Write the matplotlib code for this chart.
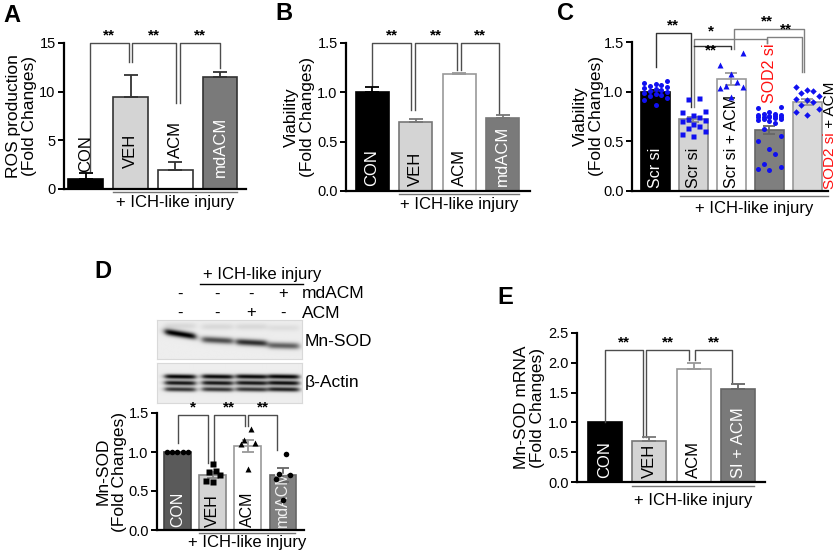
import numpy as np
import matplotlib
matplotlib.use('Agg')
import matplotlib.pyplot as plt

plt.rcParams['font.family'] = ['Liberation Sans', 'DejaVu Sans']

W, H = 837, 553

# ---------------- data ----------------
# A: ROS production
a_groups = ['CON', 'VEH', 'ACM', 'mdACM']
a_mean = [1.0, 9.5, 2.0, 11.5]
a_err = [0.6, 2.2, 0.8, 0.5]

# B: viability
b_groups = ['CON', 'VEH', 'ACM', 'mdACM']
b_mean = [1.0, 0.70, 1.19, 0.74]
b_err = [0.05, 0.03, 0.01, 0.03]

# C: viability with siRNA
c_groups = ['Scr si', 'Scr si', 'Scr si + ACM', 'SOD2 si', 'SOD2 si + ACM']
c_mean = [1.0, 0.72, 1.13, 0.61, 0.90]
c_err = [0.02, 0.025, 0.06, 0.04, 0.03]
c_pts = [
    [1.11, 1.09, 1.08, 1.07, 1.06, 1.05, 1.04, 1.03, 1.02, 1.01, 1.00, 0.99,
     0.98, 0.97, 0.96, 0.94, 0.92, 0.87],
    [0.94, 0.93, 0.81, 0.80, 0.77, 0.75, 0.72, 0.71, 0.70, 0.67, 0.65, 0.63,
     0.60, 0.57, 0.55],
    [1.39, 1.27, 1.18, 1.10, 1.06, 1.05, 1.04, 0.95],
    [0.85, 0.84, 0.80, 0.78, 0.78, 0.77, 0.77, 0.76, 0.76, 0.75, 0.75, 0.74,
     0.74, 0.73, 0.72, 0.72, 0.71, 0.70, 0.68, 0.62, 0.55, 0.50, 0.42, 0.37,
     0.27, 0.24, 0.22, 0.21],
    [1.05, 1.02, 1.01, 0.99, 0.96, 0.93, 0.92, 0.90, 0.87, 0.83, 0.80, 0.77],
]

# D: Mn-SOD western blot quantification
d_groups = ['CON', 'VEH', 'ACM', 'mdACM']
d_mean = [1.0, 0.71, 1.08, 0.70]
d_err = [0.0, 0.04, 0.08, 0.09]
d_pts = [
    [1.0, 1.0, 1.0, 1.0, 1.0],
    [0.84, 0.76, 0.74, 0.71, 0.63, 0.62],
    [1.29, 1.15, 1.12, 1.10, 0.78],
    [0.97, 0.72, 0.71, 0.65, 0.39],
]
d_mdacm_sign = ['-', '-', '-', '+']
d_acm_sign = ['-', '-', '+', '-']
mnsod_band = [0.95, 0.62, 0.75, 0.55]
actin_band = [[0.92, 0.90, 0.90, 0.92],
              [0.85, 0.85, 0.85, 0.88],
              [0.72, 0.72, 0.72, 0.80]]

# E: Mn-SOD mRNA
e_groups = ['CON', 'VEH', 'ACM', 'SI + ACM']
e_mean = [1.0, 0.69, 1.90, 1.56]
e_err = [0.0, 0.06, 0.10, 0.08]

fig = plt.figure(figsize=(W / 100, H / 100), dpi=100)


def px_axes(x0, x1, ytop, ybot):
    return fig.add_axes([x0 / W, 1 - ybot / H, (x1 - x0) / W, (ybot - ytop) / H])


def style(ax, ymax, yticks, xlim, fmt, ylabel, label_right_px):
    ax.set_ylim(0, ymax)
    ax.set_xlim(*xlim)
    ax.spines[['top', 'right']].set_visible(False)
    for s in ['left', 'bottom']:
        ax.spines[s].set_linewidth(1.6)
    ax.set_xticks([])
    ax.set_yticks(yticks)
    ax.set_yticklabels([fmt.format(t) for t in yticks])
    ax.tick_params(axis='y', length=4, width=1.4, labelsize=10.5, pad=2)
    ax.patch.set_alpha(0)
    pos = ax.get_position()
    xl = (label_right_px / W - pos.x0) / pos.width
    ax.set_ylabel(ylabel, fontsize=12.5, linespacing=1.1)
    ax.yaxis.set_label_coords(xl, 0.5)


def bars(ax, means, err, colors, edges, two_sided, capsize=5):
    x = np.arange(len(means))
    ax.bar(x, means, 0.76, color=colors, edgecolor=edges, linewidth=1.2, zorder=2)
    lower = err if two_sided else [0] * len(err)
    for i in range(len(means)):
        if err[i] > 0:
            ax.errorbar(x[i], means[i], yerr=[[lower[i]], [err[i]]], fmt='none',
                        ecolor=edges[i] if colors[i] != 'black' else 'black',
                        elinewidth=1.3, capsize=capsize, capthick=1.3, zorder=4)
    return x


def bracket(ax, xa, xb, top, ya, yb, label, color='0.3', lx=None, ly=None):
    ax.plot([xa, xa, xb, xb], [ya, top, top, yb], color=color, lw=1.0,
            clip_on=False, zorder=3)
    lx = (xa + xb) / 2 if lx is None else lx
    ymax = ax.get_ylim()[1]
    ly = top + ymax * 0.005 if ly is None else ly
    ax.text(lx, ly, label, ha='center', va='bottom' if ly >= top else 'center',
            fontsize=11, fontweight='bold', clip_on=False)


def ich(ax, x0, x1, dline, dtext):
    tr = ax.get_xaxis_transform()
    hpx = ax.get_position().height * H
    ax.plot([x0, x1], [-dline / hpx] * 2, color='0.45', lw=1, transform=tr,
            clip_on=False)
    ax.text((x0 + x1) / 2, -dtext / hpx, '+ ICH-like injury', transform=tr,
            ha='center', va='center', fontsize=12)


def spread(vals, width, k=5):
    order = np.argsort(vals)
    pattern = np.linspace(-width / 2, width / 2, k)[[2, 0, 4, 1, 3]]
    offs = np.zeros(len(vals))
    for r, idx in enumerate(order):
        offs[idx] = pattern[r % k]
    return offs


def vlabel(ax, x, y, s, color='black', size=12):
    ax.text(x, y, s, rotation=90, ha='center', va='bottom', color=color,
            fontsize=size, zorder=5)


# ---------------- A ----------------
axA = px_axes(64, 246, 43, 189)
style(axA, 15, [0, 5, 10, 15], (-0.48, 3.57), '{:g}',
      'ROS production\n(Fold Changes)', 37)
x = bars(axA, a_mean, a_err, ['black', '#d4d4d4', 'white', '#7a7a7a'],
         ['black', '#333333', '#333333', '#333333'], False)
vlabel(axA, 0, 1.75, 'CON')
vlabel(axA, 1, 2.2, 'VEH')
vlabel(axA, 2, 3.2, 'ACM')
vlabel(axA, 3, 1.2, 'mdACM', color='white')
bracket(axA, 0.1, 0.96, 15, 1.9, 13.0, '**')
bracket(axA, 1.04, 2.02, 15, 13.0, 8.8, '**')
bracket(axA, 2.1, 3.0, 15, 8.8, 12.4, '**')
ich(axA, 0.62, 3.38, 3, 14)

# ---------------- B ----------------
axB = px_axes(346, 530, 43, 191)
style(axB, 1.5, [0, 0.5, 1.0, 1.5], (-0.6, 3.63), '{:.1f}',
      'Viability\n(Fold Changes)', 315)
bars(axB, b_mean, b_err, ['black', '#d4d4d4', 'white', '#7a7a7a'],
     ['black', '#777777', '#999999', '#777777'], False)
vlabel(axB, 0, 0.05, 'CON', color='white')
vlabel(axB, 1, 0.05, 'VEH')
vlabel(axB, 2, 0.05, 'ACM')
vlabel(axB, 3, 0.05, 'mdACM', color='white')
bracket(axB, 0.0, 0.9, 1.5, 1.06, 0.82, '**')
bracket(axB, 0.98, 1.96, 1.5, 0.82, 1.23, '**')
bracket(axB, 2.04, 2.92, 1.5, 1.23, 0.78, '**')
ich(axB, 0.62, 3.38, 3, 14)

# ---------------- C ----------------
axC = px_axes(632, 828, 42, 191)
style(axC, 1.5, [0, 0.5, 1.0, 1.5], (-0.62, 4.55), '{:.1f}',
      'Viability\n(Fold Changes)', 604)
x = bars(axC, c_mean, c_err, ['black', '#d4d4d4', 'white', '#7f7f7f', '#d9d9d9'],
         ['black', '#888888', '#999999', '#666666', '#999999'], True, capsize=4)
markers = ['o', 's', '^', 'o', 'D']
msizes = [3.6, 3.6, 4.2, 3.6, 3.3]
for i, vals in enumerate(c_pts):
    axC.plot(x[i] + spread(vals, 0.6), vals, markers[i], color='#1010f0',
             ms=msizes[i], mec='none', zorder=6, clip_on=False)
vlabel(axC, 0, 0.03, 'Scr si', color='white', size=11.5)
vlabel(axC, 1, 0.03, 'Scr si', size=11.5)
vlabel(axC, 2, 0.03, 'Scr si + ACM', size=11.5)
vlabel(axC, 3, 0.89, 'SOD2 si', color='#ff1010', size=11.5)
t1 = axC.text(4.61, 0.02, 'SOD2 si', rotation=90, ha='center', va='bottom',
              color='#ff1010', fontsize=11, clip_on=False)
axC.annotate(' + ACM', xy=(0.5, 1), xycoords=t1, rotation=90, ha='center',
             va='bottom', fontsize=11, annotation_clip=False)
bracket(axC, 0.0, 0.93, 1.59, 1.25, 0.85, '**', color='0.2')
bracket(axC, 1.02, 2.94, 1.53, 0.85, 1.49, '*', color='0.5', lx=1.47)
bracket(axC, 1.02, 2.0, 1.46, 1.46, 1.43, '**', color='0.2', lx=1.47, ly=1.41)
bracket(axC, 2.07, 3.92, 1.63, 1.43, 1.20, '**', color='0.5', lx=2.94)
bracket(axC, 2.94, 3.86, 1.55, 1.49, 1.20, '**', color='0.5', lx=3.43)
ich(axC, 0.65, 4.55, 5, 18)

# ---------------- D ----------------
lanes_px = [180, 217, 251, 283]
for lx_, s in zip(lanes_px, d_mdacm_sign):
    fig.text(lx_ / W, 1 - 294 / H, s, ha='center', va='center', fontsize=12)
for lx_, s in zip(lanes_px, d_acm_sign):
    fig.text(lx_ / W, 1 - 313 / H, s, ha='center', va='center', fontsize=12)
fig.text(302 / W, 1 - 294 / H, 'mdACM', ha='left', va='center', fontsize=12.5)
fig.text(302 / W, 1 - 313 / H, 'ACM', ha='left', va='center', fontsize=12.5)
fig.text(262 / W, 1 - 274 / H, '+ ICH-like injury', ha='center', va='center',
         fontsize=12)
fig.add_artist(plt.Line2D([200 / W, 303 / W], [1 - 284 / H] * 2, color='black',
                          lw=1))

lane_c = [(p - 157) / 145 for p in lanes_px]


def blot_image(rows, centers, sy, slope):
    yy, xx = np.mgrid[0:1:120j, 0:1:300j]
    img = np.full(yy.shape, 0.93)
    for amps, yc, sl in zip(rows, centers, slope):
        for j, a in enumerate(amps):
            prof = 1 / (1 + np.exp((np.abs(xx - lane_c[j]) - 0.105) / 0.012))
            yc_j = yc[j] + sl[j] * (xx - lane_c[j])
            img -= a * prof * np.exp(-((yy - yc_j) / sy) ** 2)
    return np.clip(img, 0, 1)


axM = px_axes(157, 302, 320, 359)
img = blot_image([[0.08, 0.08, 0.08, 0.06], mnsod_band],
                 [[0.15, 0.17, 0.17, 0.2], [0.36, 0.52, 0.58, 0.66]], 0.085,
                 [[0, 0, 0, 0], [0.6, 0.2, 0.2, 0.1]])
axM.imshow(img, cmap='gray', vmin=0, vmax=1, extent=[0, 1, 1, 0], aspect='auto')
axM.set_xticks([]); axM.set_yticks([])
for s in axM.spines.values():
    s.set_color('0.85')
fig.text(305 / W, 1 - 341 / H, 'Mn-SOD', ha='left', va='center', fontsize=12.5)

axT = px_axes(157, 302, 363, 403)
img = blot_image(actin_band, [[0.34] * 4, [0.5] * 4, [0.66] * 4], 0.06,
                 [[0.05] * 4, [0.05] * 4, [0.05] * 4])
axT.imshow(img, cmap='gray', vmin=0, vmax=1, extent=[0, 1, 1, 0], aspect='auto')
axT.set_xticks([]); axT.set_yticks([])
for s in axT.spines.values():
    s.set_color('0.85')
fig.text(305 / W, 1 - 383 / H, 'β-Actin', ha='left', va='center', fontsize=12.5)

axD = px_axes(157, 304, 413, 530)
style(axD, 1.5, [0, 0.5, 1.0, 1.5], (-0.58, 3.6), '{:.1f}',
      'Mn-SOD\n(Fold Changes)', 127)
x = bars(axD, d_mean, d_err, ['#5a5a5a', '#d4d4d4', 'white', '#808080'],
         ['#444444', '#888888', '#999999', '#666666'], True, capsize=4)
dmark = ['o', 's', '^', 'o']
for i, vals in enumerate(d_pts):
    if i == 0:
        offs = np.linspace(-0.3, 0.3, len(vals))
    else:
        offs = spread(vals, 0.4)
    axD.plot(x[i] + offs, vals, dmark[i], color='black', ms=4, mec='none',
             zorder=6)
vlabel(axD, 0, 0.04, 'CON', color='white', size=11.5)
vlabel(axD, 1, 0.04, 'VEH', size=11.5)
vlabel(axD, 2, 0.04, 'ACM', size=11.5)
vlabel(axD, 3, 0.04, 'mdACM', color='#f0f0f0', size=11.5)
bracket(axD, 0.01, 0.88, 1.47, 1.11, 0.86, '*')
bracket(axD, 1.03, 1.92, 1.47, 0.82, 1.33, '**')
bracket(axD, 2.02, 2.83, 1.47, 1.33, 1.03, '**')
ich(axD, 0.62, 3.35, 3, 13)

# ---------------- E ----------------
axE = px_axes(577, 765, 333, 482)
style(axE, 2.5, [0, 0.5, 1.0, 1.5, 2.0, 2.5], (-0.62, 3.6), '{:.1f}',
      'Mn-SOD mRNA\n(Fold Changes)', 545)
bars(axE, e_mean, e_err, ['black', '#d4d4d4', 'white', '#7a7a7a'],
     ['black', '#777777', '#999999', '#666666'], False)
vlabel(axE, 0, 0.06, 'CON', color='white')
vlabel(axE, 1, 0.06, 'VEH')
vlabel(axE, 2, 0.06, 'ACM')
vlabel(axE, 3, 0.06, 'SI + ACM', color='white')
bracket(axE, 0.01, 0.86, 2.21, 1.01, 0.755, '**')
bracket(axE, 0.94, 1.9, 2.21, 0.755, 2.04, '**')
bracket(axE, 2.03, 2.86, 2.21, 2.04, 1.68, '**')
ich(axE, 0.62, 3.35, 4, 18)

# panel letters
for letter, px, py in [('A', 12, 15), ('B', 284, 14), ('C', 566, 14),
                       ('D', 103, 272), ('E', 505, 297)]:
    fig.text(px / W, 1 - py / H, letter, ha='center', va='center', fontsize=17,
             fontweight='bold')

fig.savefig('out.png', dpi=100)
